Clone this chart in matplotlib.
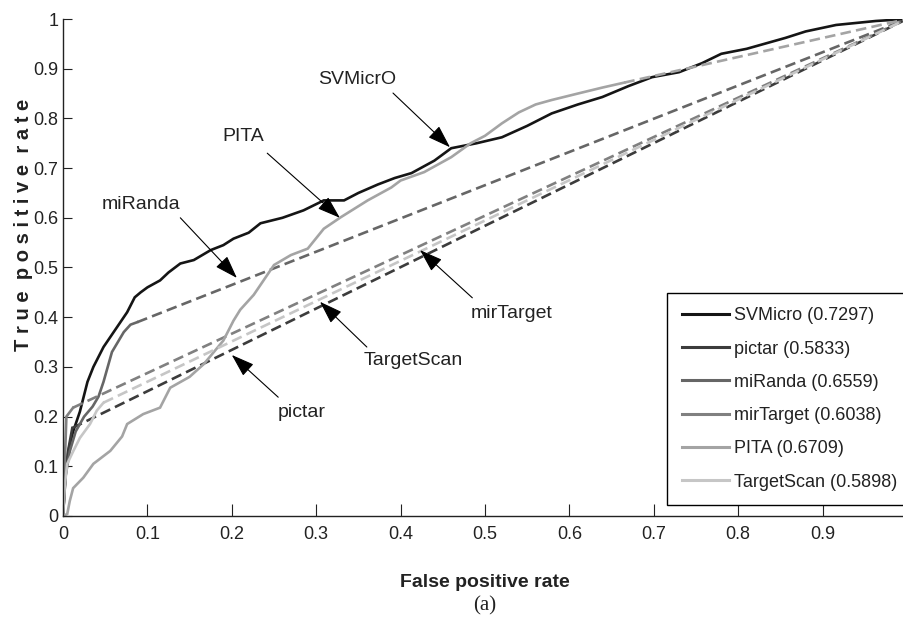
import matplotlib
matplotlib.use("Agg")
import matplotlib.pyplot as plt
from matplotlib.lines import Line2D

svm_fpr = [0, 0.003, 0.006, 0.012, 0.02, 0.029, 0.036, 0.048, 0.056, 0.064, 0.076, 0.085, 0.092, 0.1,
           0.115, 0.125, 0.139, 0.155, 0.175, 0.19, 0.202, 0.22, 0.234, 0.26, 0.285, 0.309, 0.333, 0.35,
           0.373, 0.393, 0.413, 0.44, 0.46, 0.49, 0.52, 0.55, 0.579, 0.61, 0.639, 0.67, 0.698, 0.73,
           0.757, 0.78, 0.81, 0.856, 0.88, 0.916, 0.963, 1.0]
svm_tpr = [0, 0.09, 0.13, 0.17, 0.21, 0.27, 0.30, 0.34, 0.36, 0.38, 0.41, 0.44, 0.45, 0.46,
           0.474, 0.49, 0.508, 0.515, 0.535, 0.545, 0.558, 0.57, 0.589, 0.60, 0.615, 0.635, 0.635, 0.65,
           0.667, 0.68, 0.69, 0.715, 0.74, 0.75, 0.762, 0.785, 0.81, 0.828, 0.843, 0.865, 0.883, 0.893,
           0.911, 0.93, 0.94, 0.962, 0.975, 0.988, 0.996, 1.0]

pictar_fpr = [0, 0.003, 0.007, 0.011]
pictar_tpr = [0, 0.08, 0.14, 0.177]

miranda_fpr = [0, 0.003, 0.008, 0.015, 0.025, 0.035, 0.042, 0.048, 0.053, 0.058, 0.065, 0.072, 0.08, 0.088]
miranda_tpr = [0, 0.08, 0.13, 0.17, 0.2, 0.22, 0.24, 0.27, 0.30, 0.33, 0.35, 0.37, 0.385, 0.39]

mirtarget_fpr = [0, 0.002, 0.004, 0.012]
mirtarget_tpr = [0, 0.1, 0.2, 0.218]

pita_fpr = [0, 0.005, 0.008, 0.012, 0.024, 0.036, 0.056, 0.07, 0.076, 0.095, 0.115, 0.127, 0.15, 0.167,
            0.19, 0.202, 0.21, 0.226, 0.25, 0.27, 0.29, 0.309, 0.329, 0.361, 0.389, 0.40, 0.428, 0.46,
            0.483, 0.5, 0.52, 0.54, 0.56, 0.579, 0.61, 0.639, 0.665]
pita_tpr = [0, 0.004, 0.03, 0.056, 0.077, 0.105, 0.131, 0.16, 0.185, 0.205, 0.218, 0.258, 0.28, 0.306,
            0.353, 0.393, 0.415, 0.445, 0.505, 0.525, 0.538, 0.578, 0.601, 0.635, 0.661, 0.675, 0.692, 0.722,
            0.75, 0.765, 0.79, 0.812, 0.828, 0.837, 0.85, 0.862, 0.872]

tscan_fpr = [0, 0.002, 0.005, 0.012, 0.02, 0.032, 0.04, 0.048]
tscan_tpr = [0, 0.06, 0.105, 0.13, 0.157, 0.185, 0.212, 0.228]

names = ["SVMicro", "pictar", "miRanda", "mirTarget", "PITA", "TargetScan"]
aucs = [0.7297, 0.5833, 0.6559, 0.6038, 0.6709, 0.5898]
colors = ["#151515", "#3c3c3c", "#666666", "#808080", "#a4a4a4", "#c6c6c6"]
curves = [(svm_fpr, svm_tpr), (pictar_fpr, pictar_tpr), (miranda_fpr, miranda_tpr),
          (mirtarget_fpr, mirtarget_tpr), (pita_fpr, pita_tpr), (tscan_fpr, tscan_tpr)]

# (label, text position, arrow start, arrow tip) in data coords
notes = [
    ("SVMicrO", (0.348, 0.879), (0.391, 0.851), (0.4585, 0.742)),
    ("PITA", (0.214, 0.763), (0.242, 0.730), (0.328, 0.600)),
    ("miRanda", (0.092, 0.626), (0.139, 0.600), (0.206, 0.479)),
    ("mirTarget", (0.531, 0.408), (0.485, 0.439), (0.423, 0.535)),
    ("TargetScan", (0.415, 0.312), (0.360, 0.340), (0.3045, 0.431)),
    ("pictar", (0.283, 0.209), (0.255, 0.239), (0.200, 0.324)),
]

plt.rcParams["font.family"] = ["Liberation Sans", "DejaVu Sans"]
INK = "#222222"

fig = plt.figure(figsize=(9.04, 6.21), dpi=100)
ax = fig.add_axes([0.0697, 0.1691, 0.9336, 0.8003])

for (fx, fy), c in zip(curves, colors):
    ax.plot(fx, fy, color=c, lw=1.9, solid_joinstyle="miter")
    if fx[-1] < 1:
        ax.plot([fx[-1], 1], [fy[-1], 1], color=c, lw=1.9, dashes=(4, 2))

for label, tpos, start, tip in notes:
    ax.text(tpos[0], tpos[1], label, fontsize=14, ha="center", va="center", color=INK)
    ax.annotate("", xy=tip, xytext=start,
                arrowprops=dict(arrowstyle="-|>,head_length=0.65,head_width=0.22",
                                lw=0.8, color="black", mutation_scale=22, shrinkA=0, shrinkB=0))

handles = [Line2D([], [], color=c, lw=2.2) for c in colors]
labels = [f"{n} ({a:.4f})" for n, a in zip(names, aucs)]
leg = ax.legend(handles, labels, loc="upper left", bbox_to_anchor=(0.716, 0.449), borderaxespad=0,
                fontsize=13, handlelength=2.6, handletextpad=0.3, labelspacing=0.9,
                borderpad=0.8, fancybox=False, framealpha=1, edgecolor="black")
leg.get_frame().set_linewidth(1.0)
for t in leg.get_texts():
    t.set_color(INK)

ax.set_xlim(0, 1)
ax.set_ylim(0, 1)
ax.set_xticks([i / 10 for i in range(10)])
ax.set_xticklabels(["0"] + [f"0.{i}" for i in range(1, 10)])
ax.set_yticks([i / 10 for i in range(11)])
ax.set_yticklabels(["0"] + [f"0.{i}" for i in range(1, 10)] + ["1"])
ax.tick_params(direction="in", labelsize=13, colors=INK, width=0.8)
ax.tick_params(axis="x", length=9, pad=7.5)
ax.tick_params(axis="y", length=6.5, pad=3.5)
for s in ["top", "right"]:
    ax.spines[s].set_visible(False)
for s in ["left", "bottom"]:
    ax.spines[s].set_linewidth(1.0)
    ax.spines[s].set_color(INK)

ax.set_xlabel("False positive rate", fontsize=14, fontweight="bold", labelpad=22, color=INK)
fig.text(0.026, 0.638, "T r u e  p o s i t i v e  r a t e", rotation=90, ha="center", va="center",
         fontsize=14.5, fontweight="bold", color=INK)
fig.text(0.5365, 0.024, "(a)", fontsize=15, ha="center", va="center",
         family=["Liberation Serif", "DejaVu Serif"], color=INK)

fig.savefig("out.png", dpi=100)
